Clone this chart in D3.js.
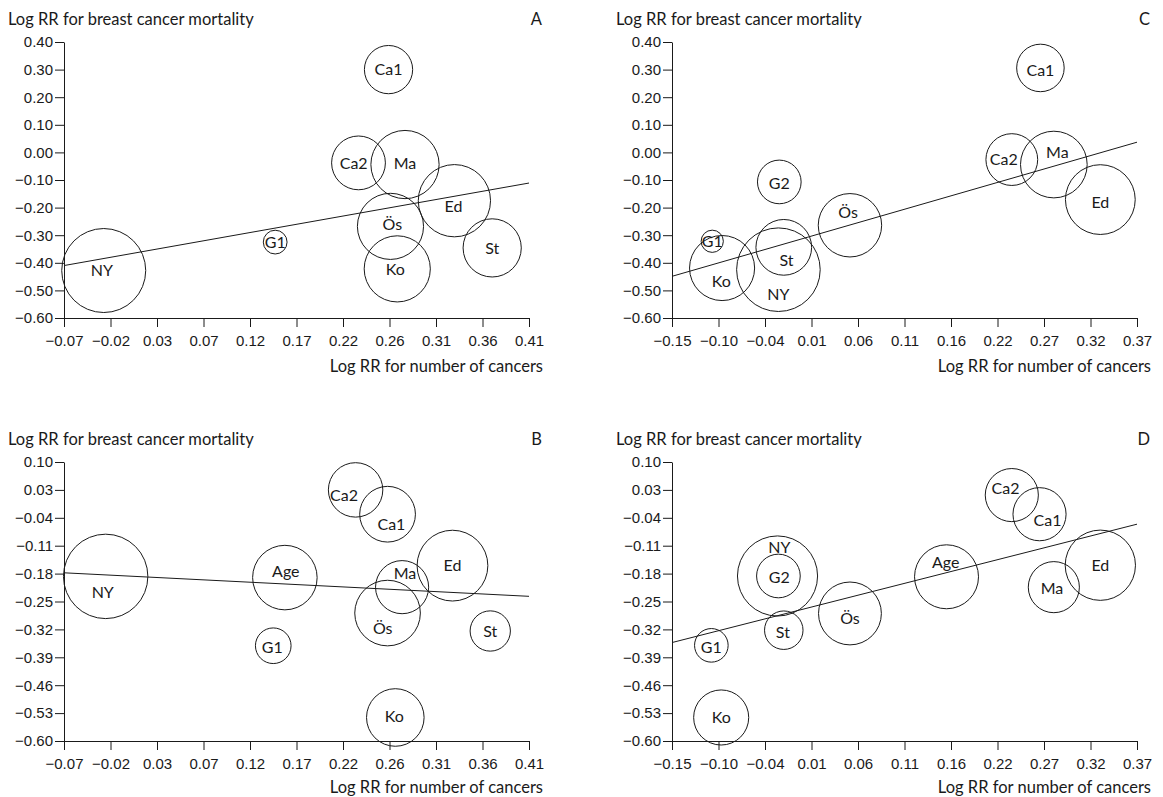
<!DOCTYPE html>
<meta charset="utf-8">
<style>
    body { margin: 0; background: #fff; }
    svg { font-family: Lato, "Open Sans", sans-serif; }
    .tick text { font-size: 15px; fill: #1a1a1a; }
    .tick line, .domain { stroke: #1a1a1a; stroke-width: 1; }
    .bubble { fill: none; stroke: #1a1a1a; stroke-width: 1; }
    .fit { stroke: #1a1a1a; stroke-width: 1; fill: none; }
    .lab { font-size: 16px; fill: #1a1a1a; }
    .title { font-size: 16.5px; fill: #1a1a1a; }
</style>
<svg width="1163" height="797"></svg>
<script src="https://cdn.jsdelivr.net/npm/d3@7"></script>
<script>

    // tick labels
    var xTicksAB = ["\u22120.07", "\u22120.02", "0.03", "0.07", "0.12", "0.17", "0.22", "0.26", "0.31", "0.36", "0.41"];
    var xTicksCD = ["\u22120.15", "\u22120.10", "\u22120.04", "0.01", "0.06", "0.11", "0.16", "0.22", "0.27", "0.32", "0.37"];
    var yTicksAC = ["0.40", "0.30", "0.20", "0.10", "0.00", "\u22120.10", "\u22120.20", "\u22120.30", "\u22120.40", "\u22120.50", "\u22120.60"];
    var yTicksBD = ["0.10", "0.03", "\u22120.04", "\u22120.11", "\u22120.18", "\u22120.25", "\u22120.32", "\u22120.39", "\u22120.46", "\u22120.53", "\u22120.60"];

    // panel A
    var studiesA = ["Ca1", "Ca2", "Ma", "Ed", "Ös", "Ko", "St", "G1", "NY"];
    var xA = [0.265, 0.234, 0.282, 0.333, 0.267, 0.274, 0.372, 0.148, -0.029];
    var yA = [0.30, -0.038, -0.044, -0.175, -0.268, -0.422, -0.346, -0.325, -0.428];
    var wA = [33, 41, 66, 74, 62, 62, 48, 8, 100];
    var labelXA = [0.265, 0.229, 0.282, 0.332, 0.269, 0.272, 0.372, 0.148, -0.031];
    var labelYA = [0.30, -0.038, -0.038, -0.195, -0.262, -0.425, -0.346, -0.325, -0.428];
    var lineA = [[-0.07, -0.41], [0.41, -0.111]];

    // panel C
    var studiesC = ["Ca1", "Ca2", "Ma", "Ed", "G2", "Ös", "St", "G1", "Ko", "NY"];
    var xC = [0.262, 0.230, 0.277, 0.329, -0.030, 0.049, -0.025, -0.105, -0.094, -0.031];
    var yC = [0.306, -0.026, -0.044, -0.171, -0.107, -0.264, -0.344, -0.322, -0.419, -0.425];
    var wC = [32, 38, 63, 69, 27, 57, 44, 7, 60, 99];
    var labelXC = [0.262, 0.221, 0.281, 0.329, -0.030, 0.047, -0.022, -0.105, -0.095, -0.031];
    var labelYC = [0.296, -0.026, 0.0, -0.181, -0.111, -0.217, -0.389, -0.322, -0.467, -0.513];
    var lineC = [[-0.15, -0.449], [0.37, 0.037]];

    // panel B
    var studiesB = ["Ca2", "Ca1", "NY", "Age", "Ed", "Ma", "Ös", "St", "G1", "Ko"];
    var xB = [0.231, 0.264, -0.027, 0.158, 0.331, 0.279, 0.264, 0.370, 0.146, 0.272];
    var yB = [0.030, -0.031, -0.187, -0.190, -0.160, -0.214, -0.279, -0.324, -0.361, -0.541];
    var wB = [42, 44, 101, 59, 71, 40, 61, 23, 18, 47];
    var labelXB = [0.219, 0.268, -0.030, 0.159, 0.331, 0.282, 0.259, 0.370, 0.145, 0.271];
    var labelYB = [0.016, -0.055, -0.228, -0.173, -0.160, -0.180, -0.317, -0.325, -0.365, -0.539];
    var lineB = [[-0.07, -0.178], [0.41, -0.237]];

    // panel D
    var studiesD = ["Ca2", "Ca1", "NY", "G2", "Age", "Ed", "Ma", "Ös", "St", "G1", "Ko"];
    var xD = [0.230, 0.261, -0.032, -0.031, 0.157, 0.329, 0.277, 0.049, -0.025, -0.106, -0.095];
    var yD = [0.017, -0.031, -0.186, -0.186, -0.188, -0.159, -0.214, -0.280, -0.322, -0.360, -0.541];
    var wD = [40, 40, 91, 27, 58, 70, 37, 56, 21, 16, 43];
    var labelXD = [0.223, 0.270, -0.030, -0.030, 0.156, 0.329, 0.275, 0.049, -0.026, -0.106, -0.095];
    var labelYD = [0.034, -0.047, -0.114, -0.188, -0.151, -0.159, -0.216, -0.291, -0.326, -0.364, -0.541];
    var lineD = [[-0.15, -0.353], [0.37, -0.056]];

    var svg = d3.select("svg");

    var r = d3.scaleSqrt().domain([0, 100]).range([0, 42]);

    var panels = [
        { letter: "A", names: studiesA, xs: xA, ys: yA, ws: wA, lx: labelXA, ly: labelYA, fit: lineA,
          xdom: [-0.07, 0.41], ydom: [-0.60, 0.40], xl: xTicksAB, yl: yTicksAC,
          left: 64, right: 529, top: 42, bottom: 318, xtitle: 372 },
        { letter: "C", names: studiesC, xs: xC, ys: yC, ws: wC, lx: labelXC, ly: labelYC, fit: lineC,
          xdom: [-0.15, 0.37], ydom: [-0.60, 0.40], xl: xTicksCD, yl: yTicksAC,
          left: 672, right: 1137, top: 42, bottom: 318, xtitle: 372 },
        { letter: "B", names: studiesB, xs: xB, ys: yB, ws: wB, lx: labelXB, ly: labelYB, fit: lineB,
          xdom: [-0.07, 0.41], ydom: [-0.60, 0.10], xl: xTicksAB, yl: yTicksBD,
          left: 64, right: 529, top: 462, bottom: 741, xtitle: 793 },
        { letter: "D", names: studiesD, xs: xD, ys: yD, ws: wD, lx: labelXD, ly: labelYD, fit: lineD,
          xdom: [-0.15, 0.37], ydom: [-0.60, 0.10], xl: xTicksCD, yl: yTicksBD,
          left: 672, right: 1137, top: 462, bottom: 741, xtitle: 793 }
    ];

    panels.forEach(function (p) {
        var x = d3.scaleLinear().domain(p.xdom).range([p.left, p.right]);
        var y = d3.scaleLinear().domain(p.ydom).range([p.bottom, p.top]);

        var xt = d3.range(11).map(function (i) { return p.xdom[0] + i * (p.xdom[1] - p.xdom[0]) / 10; });
        var yt = d3.range(11).map(function (i) { return p.ydom[1] - i * (p.ydom[1] - p.ydom[0]) / 10; });

        var g = svg.append("g");

        g.append("g")
            .attr("transform", "translate(0," + p.bottom + ")")
            .call(d3.axisBottom(x).tickValues(xt).tickSize(9).tickPadding(8).tickSizeOuter(0)
                .tickFormat(function (d, i) { return p.xl[i]; }));

        g.append("g")
            .attr("transform", "translate(" + p.left + ",0)")
            .call(d3.axisLeft(y).tickValues(yt).tickSize(9).tickPadding(2).tickSizeOuter(0)
                .tickFormat(function (d, i) { return p.yl[i]; }));

        g.selectAll(".tick text").attr("font-family", null);

        g.append("text")
            .attr("class", "title")
            .attr("x", p.left - 56)
            .attr("y", p.top - 17)
            .text("Log RR for breast cancer mortality");

        g.append("text")
            .attr("class", "title")
            .attr("x", p.right + 13)
            .attr("y", p.top - 17)
            .attr("text-anchor", "end")
            .text(p.letter);

        g.append("text")
            .attr("class", "title")
            .attr("x", p.right + 14)
            .attr("y", p.xtitle)
            .attr("text-anchor", "end")
            .text("Log RR for number of cancers");

        var idx = d3.range(p.names.length);

        g.selectAll(".bubble")
            .data(idx)
            .enter().append("circle")
            .attr("class", "bubble")
            .attr("cx", function (i) { return x(p.xs[i]); })
            .attr("cy", function (i) { return y(p.ys[i]); })
            .attr("r", function (i) { return r(p.ws[i]); });

        g.selectAll(".lab")
            .data(idx)
            .enter().append("text")
            .attr("class", "lab")
            .attr("x", function (i) { return x(p.lx[i]); })
            .attr("y", function (i) { return y(p.ly[i]); })
            .attr("dy", "0.36em")
            .attr("text-anchor", "middle")
            .text(function (i) { return p.names[i]; });

        g.append("path")
            .attr("class", "fit")
            .attr("d", d3.line().x(function (d) { return x(d[0]); }).y(function (d) { return y(d[1]); })(p.fit));
    });

</script>
